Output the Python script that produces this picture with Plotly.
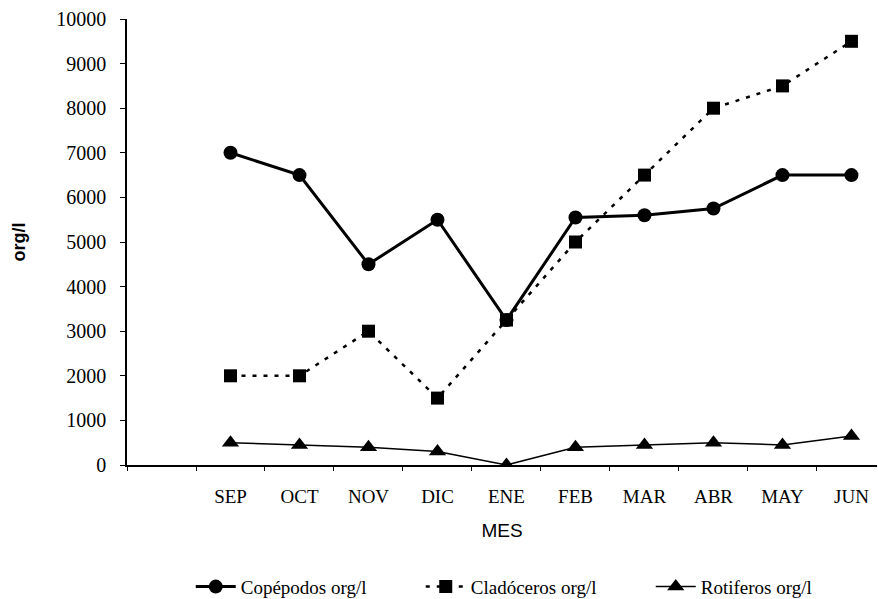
import plotly.graph_objects as go

# Monthly zooplankton densities (org/l)
meses = ["SEP", "OCT", "NOV", "DIC", "ENE", "FEB", "MAR", "ABR", "MAY", "JUN"]
copepodos = [7000, 6500, 4500, 5500, 3250, 5550, 5600, 5750, 6500, 6500]
cladoceros = [2000, 2000, 3000, 1500, 3250, 5000, 6500, 8000, 8500, 9500]
rotiferos = [500, 450, 400, 300, 0, 400, 450, 500, 450, 650]

y_ticks = list(range(0, 10001, 1000))

# month positions on a numeric axis; slot 0 is left empty before SEP
x_pos = list(range(1, len(meses) + 1))
boundaries = [i - 0.5 for i in range(0, len(meses) + 2)]

serif = "Liberation Serif, Times New Roman, serif"
sans = "Liberation Sans, Arial, sans-serif"

fig = go.Figure()
fig.add_trace(go.Scatter(
    x=x_pos, y=copepodos, name="Copépodos org/l", mode="lines+markers",
    line=dict(color="black", width=3),
    marker=dict(symbol="circle", size=14, color="black"),
))
fig.add_trace(go.Scatter(
    x=x_pos, y=cladoceros, name="Cladóceros org/l", mode="lines+markers",
    line=dict(color="black", width=2.5, dash="4px,7px"),
    marker=dict(symbol="square", size=13, color="black"),
))
fig.add_trace(go.Scatter(
    x=x_pos, y=rotiferos, name="Rotiferos org/l", mode="lines+markers",
    line=dict(color="black", width=1.5),
    marker=dict(symbol="triangle-up", size=15, color="black"),
))

fig.update_layout(
    width=878, height=599,
    margin=dict(l=127, r=1, t=19, b=134, autoexpand=False),
    paper_bgcolor="white", plot_bgcolor="white",
    showlegend=True,
    legend=dict(
        orientation="h", x=0.545, xanchor="center", y=-0.273, yanchor="middle",
        font=dict(family=serif, size=19, color="black"),
        itemwidth=40, entrywidth=175, tracegroupgap=0,
    ),
    xaxis=dict(
        range=[-0.5, 10.37],
        tickvals=x_pos, ticktext=meses, ticks="",
        tickfont=dict(family=serif, size=19, color="black"),
        ticklabelstandoff=13,
        minor=dict(tickvals=boundaries, ticks="outside", ticklen=4,
                   tickcolor="black", tickwidth=1, showgrid=False),
        showline=True, linecolor="black", linewidth=2,
        showgrid=False, zeroline=False,
        title=dict(text="MES", font=dict(family=sans, size=19, color="black"),
                   standoff=18),
    ),
    yaxis=dict(
        range=[0, 10000],
        tickvals=y_ticks, ticktext=[str(v) for v in y_ticks],
        ticks="outside", ticklen=5, tickcolor="black", tickwidth=1,
        tickfont=dict(family=serif, size=20, color="black"),
        ticklabelstandoff=10,
        showline=True, linecolor="black", linewidth=1.5,
        showgrid=False, zeroline=False,
        title=dict(text="<b>org/l</b>", font=dict(family=sans, size=18, color="black"),
                   standoff=26),
    ),
)

fig.write_html("out.html")
